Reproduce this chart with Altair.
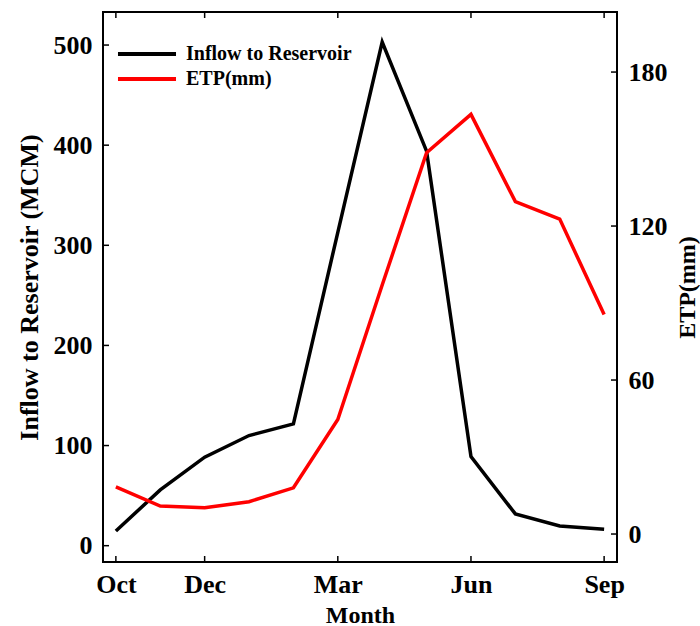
import altair as alt
import pandas as pd

# Monthly values over the water year (Oct -> Sep)
months = ["Oct", "Nov", "Dec", "Jan", "Feb", "Mar", "Apr", "May", "Jun", "Jul", "Aug", "Sep"]
inflow_mcm = [14.7, 55.7, 88.4, 110.0, 121.7, 313.0, 503.0, 394.0, 89.0, 31.7, 19.7, 16.4]
etp_mm = [18.4, 10.9, 10.2, 12.6, 18.0, 44.6, 97.0, 148.6, 163.5, 129.5, 122.7, 85.5]

month_ticks = ["Oct", "Dec", "Mar", "Jun", "Sep"]
inflow_ticks = [0, 100, 200, 300, 400, 500]
etp_ticks = [0, 60, 120, 180]

series_names = ["Inflow to Reservoir", "ETP(mm)"]
series_colors = ["#000000", "#ff0000"]

FONT = "Liberation Serif"
W, H = 514, 550
TICK = 6

inflow_df = pd.DataFrame({"month": months, "value": inflow_mcm, "series": series_names[0]})
etp_df = pd.DataFrame({"month": months, "value": etp_mm, "series": series_names[1]})

x_scale = alt.Scale(type="point", domain=months, padding=0.29)
y_left = alt.Scale(domain=[-16.3, 533], nice=False, zero=False)
y_right = alt.Scale(domain=[-10.9, 203.4], nice=False, zero=False)

color = alt.Color(
    "series:N",
    scale=alt.Scale(domain=series_names, range=series_colors),
    legend=alt.Legend(
        title=None,
        orient="none",
        legendX=32,
        legendY=30,
        # horizontal stroke, 6 units long inside the -1..1 symbol box
        symbolType="M-3,0H3",
        symbolSize=374,
        symbolStrokeWidth=4,
        labelFont=FONT,
        labelFontSize=20,
        labelFontWeight="bold",
        labelColor="black",
        labelOffset=27,
        labelLimit=0,
        rowPadding=3,
        padding=0,
    ),
)

x_axis = alt.Axis(
    values=month_ticks,
    title="Month",
    ticks=False,
    tickSize=0,
    domain=False,
    labelPadding=9,
    labelAngle=0,
    titlePadding=6,
)
left_axis = alt.Axis(
    values=inflow_ticks,
    title="Inflow to Reservoir (MCM)",
    ticks=False,
    tickSize=0,
    domain=False,
    labelPadding=11,
    titlePadding=11,
    titleFontSize=26,
)
right_axis = alt.Axis(
    orient="right",
    values=etp_ticks,
    title="ETP(mm)",
    ticks=False,
    tickSize=0,
    domain=False,
    labelPadding=11,
    titlePadding=8,
    titleAngle=270,
    titleBaseline="top",
)

inflow_line = alt.Chart(inflow_df).mark_line(strokeWidth=3.5).encode(
    x=alt.X("month:N", scale=x_scale, sort=months, axis=x_axis),
    y=alt.Y("value:Q", scale=y_left, axis=left_axis),
    color=color,
)

# inward tick marks on the left, bottom and top edges
left_ticks = alt.Chart(pd.DataFrame({"value": inflow_ticks})).mark_rule(
    color="black", strokeWidth=1.5
).encode(x=alt.value(0), x2=alt.value(TICK), y=alt.Y("value:Q", scale=y_left, axis=left_axis))

bottom_ticks = alt.Chart(pd.DataFrame({"month": month_ticks})).mark_rule(
    color="black", strokeWidth=1.5
).encode(
    x=alt.X("month:N", scale=x_scale, sort=months, axis=x_axis),
    y=alt.value(H),
    y2=alt.value(H - TICK),
)

top_ticks = alt.Chart(pd.DataFrame({"month": month_ticks})).mark_rule(
    color="black", strokeWidth=1.5
).encode(
    x=alt.X("month:N", scale=x_scale, sort=months, axis=x_axis),
    y=alt.value(0),
    y2=alt.value(TICK),
)

etp_line = alt.Chart(etp_df).mark_line(strokeWidth=3.5).encode(
    x=alt.X("month:N", scale=x_scale, sort=months, axis=x_axis),
    y=alt.Y("value:Q", scale=y_right, axis=right_axis),
    color=color,
)

right_ticks = alt.Chart(pd.DataFrame({"value": etp_ticks})).mark_rule(
    color="black", strokeWidth=1.5
).encode(x=alt.value(W - TICK), x2=alt.value(W), y=alt.Y("value:Q", scale=y_right, axis=right_axis))

left_group = alt.layer(inflow_line, left_ticks, bottom_ticks, top_ticks)
right_group = alt.layer(etp_line, right_ticks)

chart = (
    alt.layer(left_group, right_group)
    .resolve_scale(y="independent")
    .properties(
        width=W,
        height=H,
        autosize=alt.AutoSizeParams(type="none"),
        padding={"left": 103, "top": 12, "right": 83, "bottom": 64},
        background="white",
    )
    .configure_view(stroke="black", strokeWidth=2)
    .configure_axis(
        labelFont=FONT,
        labelFontSize=26,
        labelFontWeight="bold",
        labelColor="black",
        titleFont=FONT,
        titleFontSize=24,
        titleFontWeight="bold",
        titleColor="black",
        grid=False,
    )
)

chart.save("out.html", embed_options={"renderer": "svg", "actions": False})
